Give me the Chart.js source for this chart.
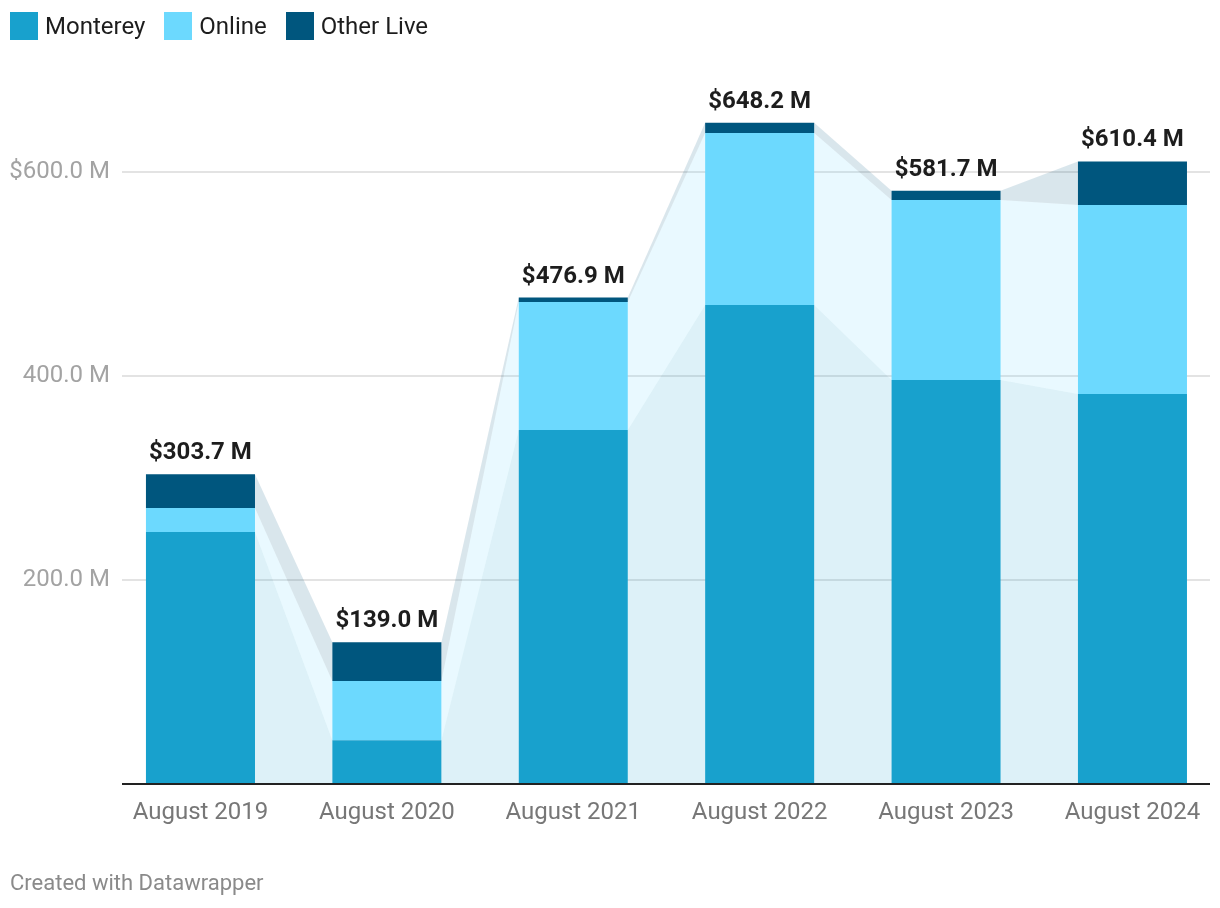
<!DOCTYPE html>
<html>
<head>
<meta charset="utf-8">
<script src="https://cdn.jsdelivr.net/npm/chart.js@4.4.1/dist/chart.umd.min.js"></script>
<style>
  body { margin: 0; background: #fff; font-family: Roboto, sans-serif; }
  #wrap { position: relative; width: 1220px; height: 908px; }
  #legend { position: absolute; left: 10px; top: 10px; display: flex; font-size: 24px; color: #1d1d1d; }
  .item { display: flex; align-items: center; margin-right: 19px; height: 32px; }
  .box { width: 28px; height: 28px; margin-right: 7px; }
  #footer { position: absolute; left: 10px; top: 870px; font-size: 22px; color: #8a8a8a; }
</style>
</head>
<body>
<div id="wrap">
  <canvas id="chart"></canvas>
  <div id="legend"></div>
  <div id="footer">Created with Datawrapper</div>
</div>
<script>
// =========================
// DATA
// =========================
const categories = ["August 2019", "August 2020", "August 2021", "August 2022", "August 2023", "August 2024"];
const monterey  = [247.0, 43.0, 347.0, 469.5, 396.0, 382.4];
const online    = [23.6, 58.0, 125.5, 168.7, 176.5, 185.2];
const otherLive = [33.1, 38.0, 4.4, 10.0, 9.2, 42.8];
const yTicks = [200, 400, 600];

const colors = {
  monterey: "#18a1cd",
  online: "#6cd9fe",
  other: "#00567e"
};

// =========================
// LEGEND
// =========================
const legend = document.getElementById("legend");
[["Monterey", colors.monterey], ["Online", colors.online], ["Other Live", colors.other]].forEach(([name, c]) => {
  legend.innerHTML += `<div class="item"><div class="box" style="background:${c}"></div>${name}</div>`;
});

function toPoints(arr) {
  return arr.map((v, i) => ({ x: i, y: v }));
}

function hexAlpha(hex, a) {
  const n = parseInt(hex.slice(1), 16);
  return `rgba(${(n >> 16) & 255},${(n >> 8) & 255},${n & 255},${a})`;
}

// =========================
// PLUGINS
// =========================
// light bands joining each segment to the same segment of the next bar
const connectors = {
  id: "connectors",
  beforeDatasetsDraw(chart) {
    const c = chart.ctx;
    c.save();
    chart.data.datasets.forEach((ds, di) => {
      const bars = chart.getDatasetMeta(di).data;
      c.fillStyle = hexAlpha(ds.backgroundColor, 0.15);
      for (let i = 0; i < bars.length - 1; i++) {
        const a = bars[i], b = bars[i + 1];
        const ax = a.x + a.width / 2;
        const bx = b.x - b.width / 2;
        c.beginPath();
        c.moveTo(ax, a.base);
        c.lineTo(ax, a.y);
        c.lineTo(bx, b.y);
        c.lineTo(bx, b.base);
        c.closePath();
        c.fill();
      }
    });
    c.restore();
  }
};

const totalsAndBase = {
  id: "totalsAndBase",
  afterDatasetsDraw(chart) {
    const c = chart.ctx;
    const area = chart.chartArea;
    const y0 = chart.scales.y.getPixelForValue(0);

    c.save();
    c.strokeStyle = "#222";
    c.lineWidth = 2;
    c.beginPath();
    c.moveTo(area.left, y0);
    c.lineTo(area.right, y0);
    c.stroke();

    const top = chart.getDatasetMeta(chart.data.datasets.length - 1).data;
    c.font = "bold 24px Roboto";
    c.fillStyle = "#1d1d1d";
    c.textAlign = "center";
    c.textBaseline = "alphabetic";
    top.forEach((bar, i) => {
      const total = monterey[i] + online[i] + otherLive[i];
      c.fillText("$" + total.toFixed(1) + " M", bar.x, bar.y - 15);
    });
    c.restore();
  }
};

// =========================
// CHART
// =========================
const ctx = document.getElementById("chart").getContext("2d");

new Chart(ctx, {
  type: "bar",
  data: {
    datasets: [
      { label: "Monterey", data: toPoints(monterey), backgroundColor: colors.monterey },
      { label: "Online", data: toPoints(online), backgroundColor: colors.online },
      { label: "Other Live", data: toPoints(otherLive), backgroundColor: colors.other }
    ]
  },
  options: {
    responsive: true,
    maintainAspectRatio: false,
    animation: false,
    barPercentage: 0.585,
    categoryPercentage: 1,
    layout: { padding: { left: 10, right: 10, top: 70, bottom: 84 } },
    plugins: {
      legend: { display: false },
      tooltip: { enabled: false }
    },
    scales: {
      x: {
        type: "linear",
        stacked: true,
        offset: false,
        min: -0.421,
        max: 5.416,
        grid: { display: false },
        border: { display: false },
        afterFit(scale) { scale.height = 40; },
        ticks: {
          stepSize: 1,
          includeBounds: false,
          autoSkip: false,
          maxRotation: 0,
          padding: 7,
          color: "#777",
          font: { family: "Roboto", size: 24 },
          callback: (v) => Number.isInteger(v) && categories[v] ? categories[v] : ""
        }
      },
      y: {
        stacked: true,
        min: 0,
        max: 700,
        border: { display: false },
        afterFit(scale) { scale.width = 112; },
        grid: {
          drawTicks: false,
          lineWidth: 2,
          color: (c) => yTicks.includes(c.tick.value) ? "#e3e3e3" : "rgba(0,0,0,0)"
        },
        ticks: {
          stepSize: 200,
          padding: 12,
          color: "#a3a3a3",
          font: { family: "Roboto", size: 24 },
          callback: (v) => {
            if (!yTicks.includes(v)) return "";
            return (v === 600 ? "$" : "") + v.toFixed(1) + " M";
          }
        }
      }
    }
  },
  plugins: [connectors, totalsAndBase]
});
</script>
</body>
</html>
